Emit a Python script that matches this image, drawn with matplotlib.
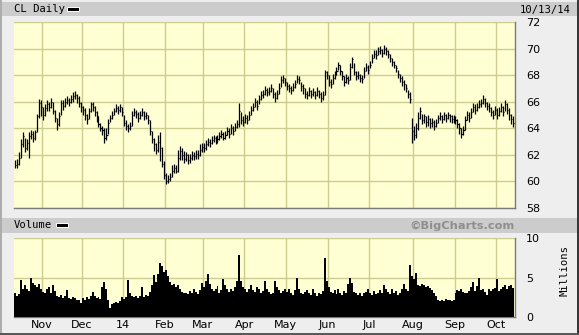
#!/usr/bin/env python3
"""BigCharts style daily OHLC chart with volume panel (CL, Oct 2013 - Oct 2014)."""

import matplotlib

matplotlib.use("Agg")
import matplotlib.pyplot as plt
import numpy as np
import pandas as pd
from matplotlib.patches import Rectangle

W, H = 579, 335

# trading calendar
start_date = "2013-10-14"
end_date = "2014-10-13"
holidays = ["2013-11-28", "2013-12-25", "2014-01-01", "2014-01-20", "2014-02-17",
            "2014-04-18", "2014-05-26", "2014-07-04", "2014-09-01"]
month_labels = ["Nov", "Dec", "14", "Feb", "Mar", "Apr", "May", "Jun", "Jul", "Aug", "Sep", "Oct"]

# daily closes, highs and lows, month by month
closes = [
    61.2, 61.3, 61.8, 62.8, 63.4, 62.5, 62.9, 63.4, 63.6, 63.3, 63.7, 64.9, 65.9, 65.6,
    65.0, 65.5, 65.8, 65.6, 66.0, 65.3, 64.8, 64.3, 64.9, 65.9, 65.7, 66.0, 66.1, 66.0, 66.2, 66.4, 66.5, 66.3, 65.9, 65.6,
    65.4, 65.0, 64.7, 65.3, 65.8, 65.6, 65.2, 64.9, 64.3, 64.0, 63.9, 63.3, 63.5, 64.4, 64.8, 65.0, 65.3, 65.5, 65.4, 65.6, 65.2,
    64.4, 64.2, 64.0, 64.2, 65.0, 65.2, 65.1, 64.8, 65.0, 65.2, 64.9, 65.0, 64.6, 63.8, 63.2, 62.8, 62.4, 63.0, 62.5, 61.3, 60.5,
    60.0, 60.2, 60.3, 60.8, 61.0, 60.8, 61.8, 62.3, 62.0, 61.7, 62.0, 61.6, 61.8, 62.0, 61.9, 62.1, 62.0, 62.4, 62.6,
    62.5, 62.8, 63.0, 62.9, 63.1, 63.3, 63.0, 63.2, 63.4, 63.6, 63.3, 63.5, 63.8, 63.6, 64.0, 63.8, 64.1, 64.3, 65.3, 64.6, 64.5,
    64.8, 64.6, 65.0, 65.4, 65.6, 66.0, 65.7, 66.2, 66.5, 66.6, 66.9, 66.7, 66.8, 67.0, 66.6, 66.3, 66.6, 67.0, 67.6, 67.8, 67.5,
    67.2, 67.0, 66.9, 67.1, 67.3, 67.7, 67.6, 67.2, 67.0, 66.6, 66.5, 66.8, 66.6, 66.7, 66.5, 66.8, 66.6, 66.3, 66.5, 68.2, 68.0,
    67.5, 67.3, 67.8, 68.0, 68.3, 68.8, 68.3, 67.9, 67.5, 67.8, 67.6, 68.6, 69.2, 68.2, 67.9, 68.0, 67.8, 67.7, 68.3, 68.6, 68.4,
    68.8, 69.3, 69.6, 69.5, 69.8, 69.9, 69.7, 70.0, 69.8, 69.6, 69.3, 69.0, 68.8, 68.5, 68.1, 67.8, 67.5, 67.3, 67.0, 66.6, 66.2, 63.8,
    63.5, 64.0, 64.8, 65.3, 64.6, 64.9, 64.5, 64.7, 64.4, 64.5, 64.2, 64.4, 64.8, 64.9, 64.7, 65.0, 64.8, 65.0, 64.9, 64.7, 64.8,
    64.6, 64.3, 64.0, 63.6, 63.9, 64.6, 65.0, 64.8, 65.2, 65.6, 65.4, 65.6, 65.8, 65.9, 66.2, 65.9, 65.7, 65.5, 65.2, 65.0, 65.4,
    65.0, 65.3, 65.6, 65.2, 65.8, 65.4, 65.0, 64.7, 64.4,
]
highs = [
    61.6, 61.7, 62.2, 63.2, 63.7, 63.3, 63.2, 63.7, 63.9, 63.8, 63.9, 65.1, 66.2, 66.1,
    65.6, 65.8, 66.1, 66.0, 66.3, 66.0, 65.4, 64.8, 65.2, 66.1, 66.1, 66.3, 66.4, 66.3, 66.5, 66.7, 66.8, 66.6, 66.4, 66.0,
    65.7, 65.5, 65.1, 65.5, 66.0, 66.0, 65.7, 65.3, 64.9, 64.4, 64.2, 64.0, 64.0, 64.7, 65.0, 65.3, 65.5, 65.8, 65.7, 65.8, 65.6,
    65.0, 64.6, 64.3, 64.5, 65.3, 65.5, 65.4, 65.2, 65.3, 65.5, 65.3, 65.2, 65.0, 64.6, 63.8, 63.3, 62.9, 63.5, 63.7, 62.6, 61.5,
    60.6, 60.5, 60.6, 61.2, 61.3, 61.2, 62.4, 62.7, 62.5, 62.3, 62.2, 62.1, 62.1, 62.3, 62.2, 62.4, 62.4, 62.8, 62.9,
    62.9, 63.1, 63.3, 63.2, 63.4, 63.5, 63.4, 63.5, 63.7, 63.9, 63.7, 63.8, 64.1, 64.0, 64.3, 64.2, 64.4, 64.6, 65.9, 65.2, 64.9,
    65.1, 65.0, 65.3, 65.7, 65.9, 66.3, 66.1, 66.5, 66.8, 66.9, 67.2, 67.0, 67.1, 67.3, 67.0, 66.7, 66.9, 67.4, 67.9, 68.0, 67.8,
    67.5, 67.3, 67.2, 67.4, 67.6, 68.0, 67.9, 67.5, 67.3, 67.0, 66.8, 67.1, 66.9, 67.0, 66.8, 67.1, 66.9, 66.7, 66.8, 68.4, 68.3,
    68.0, 67.7, 68.1, 68.3, 68.6, 69.0, 68.8, 68.3, 67.9, 68.1, 67.9, 68.9, 69.4, 68.9, 68.3, 68.3, 68.1, 68.0, 68.6, 68.9, 68.8,
    69.1, 69.6, 69.9, 69.9, 70.1, 70.2, 70.0, 70.3, 70.1, 69.9, 69.6, 69.3, 69.1, 68.8, 68.4, 68.1, 67.9, 67.6, 67.3, 66.9, 66.7, 64.8,
    64.2, 64.4, 65.2, 65.6, 65.1, 65.1, 64.9, 65.0, 64.8, 64.8, 64.6, 64.7, 65.0, 65.2, 65.0, 65.2, 65.1, 65.2, 65.1, 65.0, 65.0,
    64.9, 64.7, 64.4, 64.0, 64.2, 64.9, 65.3, 65.2, 65.5, 65.9, 65.8, 65.9, 66.1, 66.2, 66.5, 66.3, 66.0, 65.9, 65.6, 65.4, 65.7,
    65.5, 65.6, 65.9, 65.7, 66.1, 65.9, 65.5, 65.1, 64.9,
]
lows = [
    61.0, 61.0, 61.2, 61.8, 62.6, 62.2, 62.4, 61.8, 63.2, 63.0, 63.1, 63.7, 64.8, 64.9,
    64.6, 64.9, 65.3, 65.3, 65.5, 65.1, 64.5, 63.9, 64.2, 65.0, 65.4, 65.6, 65.8, 65.7, 65.9, 66.0, 66.2, 65.9, 65.6, 65.2,
    65.0, 64.6, 64.3, 64.7, 65.2, 65.3, 64.9, 64.5, 64.1, 63.8, 63.5, 62.9, 63.1, 63.6, 64.5, 64.7, 65.0, 65.2, 65.1, 65.2, 64.9,
    64.2, 63.9, 63.7, 63.9, 64.2, 64.9, 64.8, 64.5, 64.7, 64.9, 64.6, 64.7, 64.3, 63.5, 62.9, 62.3, 62.1, 62.2, 61.5, 61.1, 60.2,
    59.8, 59.9, 60.0, 60.3, 60.6, 60.6, 60.7, 61.6, 61.6, 61.4, 61.5, 61.3, 61.4, 61.6, 61.6, 61.7, 61.7, 61.9, 62.2,
    62.2, 62.4, 62.7, 62.6, 62.8, 63.0, 62.8, 62.9, 63.1, 63.3, 63.1, 63.2, 63.5, 63.3, 63.6, 63.5, 63.8, 64.0, 64.1, 64.3, 64.2,
    64.4, 64.3, 64.6, 65.0, 65.3, 65.6, 65.4, 65.8, 66.1, 66.3, 66.5, 66.4, 66.5, 66.7, 66.3, 66.0, 66.2, 66.6, 67.1, 67.4, 67.2,
    66.9, 66.7, 66.6, 66.8, 67.0, 67.4, 67.3, 66.8, 66.6, 66.3, 66.2, 66.4, 66.3, 66.4, 66.2, 66.4, 66.3, 66.0, 66.1, 66.5, 67.7,
    67.2, 67.0, 67.3, 67.7, 68.0, 68.4, 68.0, 67.6, 67.2, 67.4, 67.3, 67.6, 68.5, 68.0, 67.6, 67.7, 67.5, 67.4, 67.8, 68.3, 68.1,
    68.5, 68.9, 69.3, 69.2, 69.5, 69.6, 69.4, 69.6, 69.5, 69.3, 69.0, 68.7, 68.5, 68.2, 67.8, 67.5, 67.2, 66.9, 66.7, 66.3, 65.9, 62.9,
    63.1, 63.3, 63.9, 64.7, 64.3, 64.4, 64.1, 64.2, 64.0, 64.1, 63.9, 64.1, 64.4, 64.6, 64.4, 64.6, 64.5, 64.7, 64.5, 64.4, 64.4,
    64.3, 64.0, 63.6, 63.3, 63.5, 63.9, 64.6, 64.5, 64.8, 65.2, 65.1, 65.3, 65.5, 65.6, 65.8, 65.6, 65.4, 65.2, 64.9, 64.7, 65.0,
    64.7, 64.9, 65.2, 64.9, 65.3, 65.1, 64.6, 64.3, 64.1,
]
# daily volume, millions of shares
volumes = [
    3.0, 2.7, 2.9, 4.7, 3.6, 4.0, 3.5, 3.3, 4.9, 4.3, 4.0, 3.8, 4.2, 3.6,
    3.2, 3.0, 3.5, 3.8, 3.1, 4.0, 3.3, 2.6, 2.5, 2.8, 2.4, 2.6, 3.4, 2.4, 2.3, 2.5, 2.4, 2.2, 2.1, 1.8,
    2.4, 2.2, 2.5, 2.3, 2.6, 3.2, 2.6, 2.4, 2.5, 2.3, 3.8, 4.4, 3.6, 2.1, 1.1, 1.6, 1.8, 1.9, 1.8, 2.0, 2.5,
    2.3, 2.5, 4.7, 3.0, 2.6, 2.5, 2.7, 2.4, 2.6, 3.8, 2.5, 2.8, 2.6, 3.2, 4.0, 5.3, 4.4, 5.5, 6.8, 6.4, 5.7,
    6.0, 5.2, 4.4, 4.0, 4.2, 3.8, 4.0, 3.5, 3.2, 3.0, 3.1, 2.9, 3.3, 3.0, 3.6, 3.2, 2.9, 3.4, 4.3,
    3.8, 4.5, 5.4, 4.2, 3.6, 3.3, 3.5, 3.9, 3.1, 3.4, 4.8, 4.0, 3.5, 3.2, 3.6, 3.3, 3.8, 4.5, 7.8, 4.6, 3.8,
    3.5, 3.2, 3.6, 4.0, 3.4, 3.2, 3.8, 3.5, 3.0, 3.3, 4.5, 3.6, 3.2, 2.9, 3.1, 4.6, 3.8, 3.4, 3.0, 3.3, 3.6,
    3.2, 3.5, 3.0, 2.8, 3.4, 5.0, 3.6, 3.1, 2.9, 3.2, 3.4, 3.0, 2.8, 3.5, 3.1, 2.7, 3.0, 2.9, 3.3, 7.5, 4.6,
    3.8, 3.2, 3.0, 3.4, 2.9, 3.6, 3.1, 2.8, 3.3, 3.0, 4.2, 5.0, 4.3, 3.2, 3.0, 2.8, 3.1, 2.7, 3.0, 3.2, 3.5,
    3.0, 2.8, 3.3, 2.9, 3.1, 3.4, 3.0, 4.0, 3.6, 3.2, 2.9, 3.5, 3.1, 3.3, 2.8, 3.0, 3.6, 4.2, 3.5, 3.3, 6.6, 5.2,
    4.8, 5.6, 4.0, 3.9, 4.2, 4.0, 3.8, 3.9, 3.7, 3.4, 3.0, 2.6, 2.2, 2.0, 2.1, 2.0, 2.3, 2.1, 2.2, 2.0, 2.1,
    3.0, 3.4, 3.3, 3.5, 3.2, 3.0, 3.1, 3.3, 3.8, 4.4, 3.3, 3.9, 5.0, 3.4, 3.6, 3.2, 2.8, 3.5, 3.3, 3.6, 3.7,
    4.8, 3.3, 3.5, 3.8, 4.0, 3.6, 3.9, 4.0, 3.7,
]

PANEL_BG = "#ffffd4"
GRID = "#cccc90"
BAR_GRAY = "#cccccc"
OUTER = "#eeeeee"


def fig_rect(x, y, w, h):
    """Pixel box (top-left origin) -> figure fraction [l, b, w, h]."""
    return [x / W, 1 - (y + h) / H, w / W, h / H]


def main() -> None:
    dates = pd.bdate_range(start_date, end_date, freq="C", holidays=holidays)
    idx = np.arange(len(dates))
    month_starts = [i for i in idx[1:] if dates[i].month != dates[i - 1].month]
    tick_pos = [i - 0.5 for i in month_starts]

    fig = plt.figure(figsize=(W / 100, H / 100), dpi=100, facecolor=OUTER)

    # gray header strips
    for y0, h in [(2, 14), (218, 15)]:
        l, b, w, hh = fig_rect(2, y0, W - 3, h)
        fig.add_artist(Rectangle((l, b), w, hh, transform=fig.transFigure,
                                 facecolor=BAR_GRAY, edgecolor="none", zorder=0))

    mono = "DejaVu Sans Mono"
    fig.text(14 / W, 1 - 9.5 / H, "CL Daily", family=mono, fontsize=7.6, va="center", ha="left")
    l, b, w, hh = fig_rect(67, 7, 12, 4)
    fig.add_artist(Rectangle((l, b), w, hh, transform=fig.transFigure, facecolor="black",
                             edgecolor="white", linewidth=0.7))
    fig.text(571 / W, 1 - 9.5 / H, "10/13/14", family=mono, fontsize=7.6, va="center", ha="right")

    fig.text(14 / W, 1 - 225.5 / H, "Volume", family=mono, fontsize=7.6, va="center", ha="left")
    l, b, w, hh = fig_rect(56, 223, 12, 4)
    fig.add_artist(Rectangle((l, b), w, hh, transform=fig.transFigure, facecolor="black",
                             edgecolor="white", linewidth=0.7))
    fig.text(515 / W, 1 - 225.5 / H, "\u00a9BigCharts.com", fontsize=8.2, fontweight="bold",
             color="#8e8e8e", va="center", ha="right")

    ax = fig.add_axes(fig_rect(14, 22, 501, 186), facecolor=PANEL_BG)
    axv = fig.add_axes(fig_rect(14, 238, 501, 79), facecolor=PANEL_BG, sharex=ax)

    # price bars: high-low with close tick to the right
    lw = 0.9
    ax.vlines(idx, lows, highs, color="black", linewidth=lw, zorder=3)
    ax.hlines(closes, idx, idx + 0.55, color="black", linewidth=lw, zorder=3)

    axv.bar(idx, volumes, width=1.0, color="black", linewidth=0, zorder=3)

    for a in (ax, axv):
        a.set_xlim(-0.6, len(dates))
        a.set_xticks(tick_pos)
        a.yaxis.tick_right()
        a.grid(True, color=GRID, linewidth=1.0, zorder=1)
        a.tick_params(length=0, labelsize=8)
        for side in ("top", "left"):
            a.spines[side].set_visible(False)
        for side in ("bottom", "right"):
            a.spines[side].set_color("#7a7a7a")
            a.spines[side].set_linewidth(1.0)

    ax.set_ylim(58, 72)
    ax.set_yticks(np.arange(58, 73, 2))
    ax.tick_params(axis="y", pad=8)
    ax.tick_params(axis="x", labelbottom=False)

    axv.set_ylim(0, 10)
    axv.set_yticks([0, 5, 10])
    axv.tick_params(axis="y", pad=8)
    axv.set_xticklabels(month_labels)
    axv.tick_params(axis="x", pad=2)
    fig.text(565 / W, 1 - 271 / H, "Millions", family=mono, fontsize=7.6, rotation=90,
             va="center", ha="center")

    # outer frame: light on the left, dark right / bottom
    fig.add_artist(plt.Line2D([0.5 / W, 0.5 / W], [0, 1], transform=fig.transFigure,
                              color="#a0a0a0", linewidth=1.2))
    fig.add_artist(plt.Line2D([1 - 1 / W, 1 - 1 / W], [0, 1], transform=fig.transFigure,
                              color="#333333", linewidth=1.4))
    fig.add_artist(plt.Line2D([0, 1], [1.2 / H, 1.2 / H], transform=fig.transFigure,
                              color="#555555", linewidth=1.4))

    fig.savefig("out.png", dpi=100, facecolor=OUTER)
    plt.close(fig)


if __name__ == "__main__":
    main()
